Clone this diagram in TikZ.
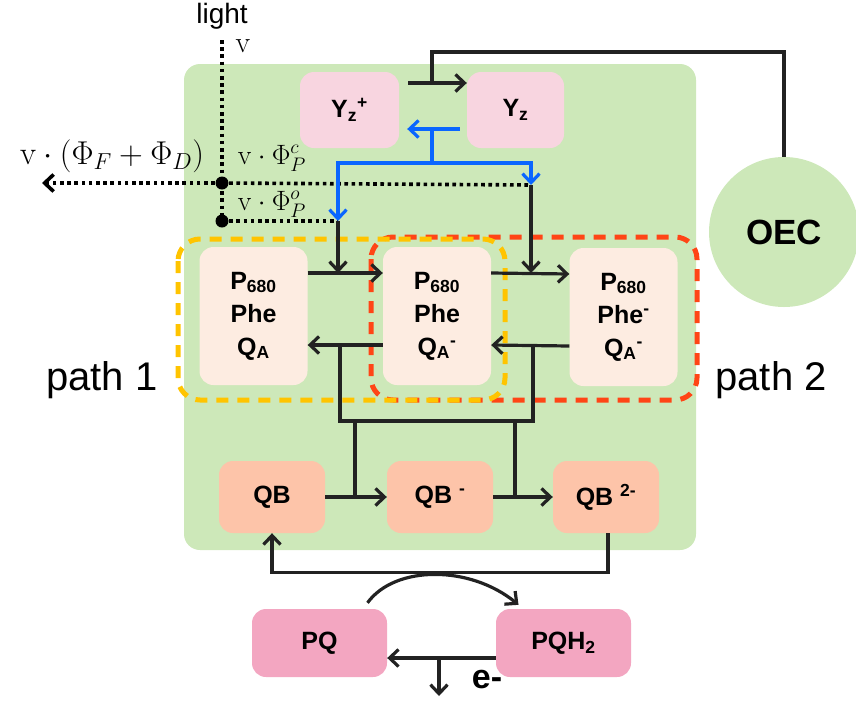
\RequirePackage{fix-cm}
\documentclass[tikz,border=0pt]{standalone}
\usepackage{fontspec}
\newfontfamily\boxfont{Liberation Sans}
\usetikzlibrary{arrows.meta}
\definecolor{cellgreen}{HTML}{CDE8B9}
\definecolor{yzpink}{HTML}{F8D5E0}
\definecolor{ppeach}{HTML}{FDECE1}
\definecolor{qbsalmon}{HTML}{FDC4A9}
\definecolor{pqpink}{HTML}{F3A6C1}
\definecolor{eblue}{HTML}{0A66FF}
\definecolor{pathyellow}{HTML}{FFC400}
\definecolor{pathred}{HTML}{FF4516}
\definecolor{ink}{HTML}{222222}

\begin{document}
\begin{tikzpicture}[x=1pt, y=-1pt,
    >={Straight Barb[length=9pt,width=17pt]},
    every node/.style={inner sep=0pt},
    state/.style={rounded corners=14pt, align=center,
        font=\boxfont\bfseries\fontsize{25}{33}\selectfont},
    flow/.style={draw=ink, line width=3.2pt},
    eflow/.style={draw=eblue, line width=3.2pt},
    photon/.style={draw=black, line width=3.6pt, dash pattern=on 3.6pt off 3.6pt},
    dot/.style={circle, fill=black, minimum size=13pt},
    pathbox/.style={line width=5pt, rounded corners=22pt, dash pattern=on 12pt off 9pt}]
\useasboundingbox (0,0) rectangle (856,702);

% cell
\fill[cellgreen, rounded corners=16pt] (184,64) rectangle (696,550);
\draw[pathbox, pathred] (371,237) rectangle (697,400);
\draw[pathbox, pathyellow] (178,239) rectangle (505,400);

% states
\node[state, fill=yzpink, minimum width=99pt, minimum height=76pt] (yzp) at (349.5,110) {Y\textsubscript{z}\textsuperscript{+}};
\node[state, fill=yzpink, minimum width=97pt, minimum height=76pt] (yz) at (515.5,110) {Y\textsubscript{z}};
\node[circle, fill=cellgreen, minimum size=150pt, font=\boxfont\bfseries\fontsize{35}{35}\selectfont] (oec) at (784,232) {OEC};

\node[state, fill=ppeach, minimum width=108pt, minimum height=138pt] (p1) at (253.5,316) {P\textsubscript{680}\\Phe\\Q\textsubscript{A}};
\node[state, fill=ppeach, minimum width=108pt, minimum height=138pt] (p2) at (437,316) {P\textsubscript{680}\\Phe\\Q\textsubscript{A}\textsuperscript{-}};
\node[state, fill=ppeach, minimum width=108pt, minimum height=138pt] (p3) at (623.5,317) {P\textsubscript{680}\\Phe\textsuperscript{-}\\Q\textsubscript{A}\textsuperscript{-}};

\node[state, fill=qbsalmon, minimum width=106pt, minimum height=72pt] (qb) at (272,497) {QB};
\node[state, fill=qbsalmon, minimum width=106pt, minimum height=72pt] (qb1) at (440,497) {QB \textsuperscript{-}};
\node[state, fill=qbsalmon, minimum width=106pt, minimum height=72pt] (qb2) at (606,497) {QB \textsuperscript{2-}};

\node[state, fill=pqpink, minimum width=135pt, minimum height=68pt] (pq) at (319.5,643) {PQ};
\node[state, fill=pqpink, minimum width=135pt, minimum height=68pt] (pqh) at (563.5,643) {PQH\textsubscript{2}};

% labels
\node[font=\boxfont\fontsize{28}{28}\selectfont] (light) at (222,16) {light};
\node[font=\fontsize{30}{30}\selectfont] (v) at (243,46) {$\mathrm{v}$};
\node[font=\fontsize{33}{33}\selectfont] (fd) at (112,156) {$\mathrm{v}\cdot(\Phi_F+\Phi_D)$};
\node[font=\fontsize{28}{28}\selectfont] (pc) at (272,158) {$\mathrm{v}\cdot\Phi_P^c$};
\node[font=\fontsize{28}{28}\selectfont] (po) at (272,204) {$\mathrm{v}\cdot\Phi_P^o$};
\node[font=\boxfont\fontsize{40}{40}\selectfont] (path1) at (102,380) {path 1};
\node[font=\boxfont\fontsize{40}{40}\selectfont] (path2) at (771,380) {path 2};
\node[font=\boxfont\bfseries\fontsize{34}{34}\selectfont] (em) at (487,680) {e-};

% light
\coordinate (lt) at (222,40);
\coordinate (fo) at (42,183);
\coordinate (dl) at (338,221);
\coordinate (dr) at (531,185);
\draw[photon] (lt) -- (222,221);
\draw[photon, ->] (222,183) -- (fo);
\draw[photon] (222,183) -- (dr);
\draw[photon] (222,221) -- (dl);
\node[dot] (d1) at (222,183) {};
\node[dot] (d2) at (222,221) {};

% donor side
\coordinate (j0) at (432,83);
\draw[flow, ->] ([xshift=9pt,yshift=27pt]yzp.east) -- ([yshift=27pt]yz.west);
\draw[flow] (j0) -- ++(0,-31) -| (oec.north);
\draw[eflow, ->] ([xshift=-7pt,yshift=-19pt]yz.west) -- ([xshift=8pt,yshift=-19pt]yzp.east);
\coordinate (bj) at (432,129);
\draw[eflow] (bj) -- (432,163);
\draw[eflow, <->] (dl) -- (338,163) -- (531,163) -- (dr);

% excitation
\draw[flow, ->] (dl) -- (338,273);
\draw[flow, ->] (dr) -- (531,273);
\draw[flow, ->] ([yshift=43pt]p1.east) -- ([yshift=43pt]p2.west);
\draw[flow, ->] ([yshift=43pt]p2.east) -- ([yshift=43pt]p3.west);
\draw[flow, ->] ([yshift=-29pt]p2.west) -- ([yshift=-29pt]p1.east);
\draw[flow, ->] ([yshift=-29pt]p3.west) -- ([yshift=-29pt]p2.east);

% acceptor side
\draw[flow] (340,345) -- (340,421) -- (533,421) -- (533,345);
\draw[flow] (355,421) -- (355,497);
\draw[flow] (515,421) -- (515,497);
\draw[flow, ->] (qb.east) -- (qb1.west);
\draw[flow, ->] (qb1.east) -- (qb2.west);
\draw[flow, ->] ([xshift=2pt]qb2.south) -- ++(0,39) -| (qb.south);

% plastoquinone pool
\draw[flow, ->] ([xshift=48pt,yshift=6pt]pq.north) .. controls (395,565) and (470,565) .. ([xshift=-45pt,yshift=4pt]pqh.north);
\draw[flow, ->] ([yshift=-15pt]pqh.west) -- ([yshift=-15pt]pq.east);
\draw[flow, ->] (439,658) -- (439,696);
\end{tikzpicture}
\end{document}
